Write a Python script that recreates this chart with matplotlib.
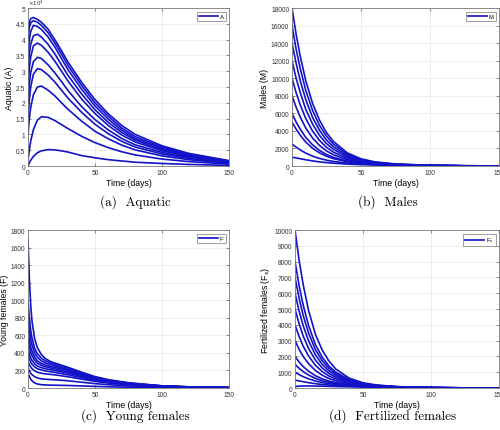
import matplotlib
matplotlib.use("Agg")
import matplotlib.pyplot as plt

# ---- (a) Aquatic, values in units of 10^4 ----
t_aq = [0, 1, 2, 4, 7, 10, 15, 20, 25, 30, 40, 50, 60, 70, 80, 100, 120, 150]
aquatic = [
    [4.2, 4.55, 4.66, 4.7, 4.64, 4.55, 4.33, 4.0, 3.65, 3.28, 2.65, 2.1, 1.65, 1.28, 1.0, 0.64, 0.4, 0.17],
    [4.0, 4.38, 4.53, 4.6, 4.55, 4.45, 4.22, 3.9, 3.54, 3.17, 2.55, 2.0, 1.57, 1.2, 0.93, 0.6, 0.37, 0.16],
    [3.5, 4.0, 4.25, 4.45, 4.42, 4.32, 4.08, 3.77, 3.4, 3.04, 2.43, 1.9, 1.48, 1.13, 0.87, 0.56, 0.35, 0.15],
    [3.0, 3.55, 3.85, 4.12, 4.17, 4.08, 3.85, 3.55, 3.2, 2.86, 2.28, 1.78, 1.38, 1.06, 0.82, 0.52, 0.32, 0.14],
    [2.5, 3.1, 3.45, 3.8, 3.89, 3.82, 3.6, 3.32, 3.0, 2.68, 2.12, 1.66, 1.28, 0.98, 0.76, 0.48, 0.3, 0.13],
    [2.0, 2.6, 2.95, 3.3, 3.44, 3.4, 3.2, 2.95, 2.67, 2.38, 1.88, 1.47, 1.14, 0.87, 0.67, 0.43, 0.27, 0.12],
    [1.5, 2.1, 2.5, 2.9, 3.08, 3.05, 2.88, 2.66, 2.4, 2.14, 1.7, 1.32, 1.02, 0.78, 0.6, 0.38, 0.24, 0.1],
    [1.0, 1.5, 1.85, 2.25, 2.5, 2.53, 2.4, 2.22, 2.0, 1.79, 1.42, 1.1, 0.86, 0.66, 0.51, 0.32, 0.2, 0.09],
    [0.2, 0.5, 0.78, 1.15, 1.45, 1.56, 1.54, 1.44, 1.31, 1.18, 0.94, 0.74, 0.58, 0.45, 0.35, 0.22, 0.14, 0.06],
    [0.0, 0.1, 0.18, 0.3, 0.42, 0.48, 0.52, 0.51, 0.48, 0.44, 0.33, 0.26, 0.2, 0.16, 0.12, 0.08, 0.05, 0.02],
]

# ---- (b) Males ----
t_m = [0, 3, 6, 10, 15, 20, 25, 30, 40, 50, 60, 75, 100, 125, 150]
males = [
    [18000, 15000, 12500, 9700, 7100, 5200, 3800, 2800, 1500, 820, 470, 230, 80, 30, 12],
    [16000, 13300, 11100, 8600, 6300, 4600, 3400, 2500, 1350, 740, 430, 210, 75, 28, 11],
    [14000, 11700, 9700, 7550, 5500, 4050, 2950, 2200, 1190, 660, 390, 195, 70, 26, 10],
    [12000, 10000, 8350, 6450, 4750, 3480, 2550, 1900, 1030, 580, 350, 180, 65, 24, 10],
    [10000, 8350, 6950, 5400, 3950, 2900, 2130, 1580, 870, 500, 300, 160, 60, 22, 9],
    [8000, 6700, 5570, 4320, 3170, 2330, 1720, 1280, 710, 420, 260, 140, 55, 20, 8],
    [6000, 5000, 4200, 3250, 2400, 1770, 1310, 980, 560, 340, 220, 120, 50, 19, 8],
    [5000, 4200, 3500, 2720, 2010, 1490, 1110, 840, 490, 300, 200, 110, 45, 18, 7],
    [2500, 2150, 1830, 1470, 1120, 860, 670, 520, 330, 220, 150, 90, 40, 16, 7],
    [1000, 920, 830, 710, 580, 470, 390, 320, 220, 160, 115, 70, 32, 14, 6],
]

# ---- (c) Young females ----
t_f = [0, 1, 2, 3, 5, 7, 10, 13, 17, 20, 30, 40, 50, 60, 75, 100, 125, 150]
young = [
    [1700, 1250, 950, 760, 560, 460, 380, 335, 300, 285, 235, 180, 130, 95, 60, 25, 11, 5],
    [1000, 800, 660, 570, 450, 390, 340, 310, 285, 270, 225, 172, 125, 90, 57, 24, 10, 5],
    [800, 660, 560, 490, 400, 350, 310, 285, 265, 252, 210, 162, 118, 86, 54, 23, 10, 5],
    [650, 550, 470, 420, 350, 310, 280, 262, 245, 235, 196, 152, 111, 81, 51, 22, 9, 4],
    [550, 470, 410, 370, 315, 282, 258, 242, 228, 218, 183, 142, 104, 76, 48, 21, 9, 4],
    [450, 390, 345, 315, 275, 250, 232, 220, 208, 200, 168, 131, 96, 71, 45, 19, 8, 4],
    [380, 330, 295, 270, 240, 220, 205, 195, 185, 178, 150, 118, 87, 64, 41, 18, 8, 4],
    [300, 265, 240, 220, 195, 180, 168, 162, 155, 150, 128, 101, 76, 56, 36, 16, 7, 3],
    [230, 195, 170, 152, 128, 115, 104, 100, 96, 94, 82, 66, 50, 38, 25, 11, 5, 2],
    [170, 130, 102, 82, 58, 46, 38, 35, 33, 32, 29, 24, 19, 14, 9, 4, 2, 1],
]

# ---- (d) Fertilized females ----
t_s = [0, 3, 6, 10, 15, 20, 25, 30, 40, 50, 60, 75, 100, 125, 150]
fertilized = [
    [10000, 8100, 6550, 4900, 3400, 2400, 1700, 1200, 620, 330, 190, 90, 30, 11, 4],
    [8000, 6500, 5250, 3950, 2750, 1950, 1390, 1000, 530, 290, 170, 82, 28, 10, 4],
    [7000, 5700, 4600, 3470, 2430, 1730, 1240, 900, 480, 270, 160, 78, 27, 10, 4],
    [6000, 4880, 3950, 2980, 2100, 1500, 1080, 790, 430, 245, 148, 73, 26, 10, 4],
    [5000, 4070, 3300, 2500, 1770, 1270, 920, 680, 380, 220, 135, 68, 25, 9, 3],
    [4000, 3260, 2650, 2020, 1440, 1040, 760, 570, 330, 195, 122, 63, 23, 9, 3],
    [3000, 2450, 2000, 1540, 1110, 810, 600, 460, 275, 170, 108, 57, 22, 8, 3],
    [2000, 1650, 1360, 1060, 780, 580, 440, 345, 218, 142, 94, 51, 20, 8, 3],
    [1500, 1250, 1040, 820, 610, 460, 360, 285, 188, 126, 85, 47, 19, 7, 3],
    [1000, 850, 720, 580, 445, 345, 275, 225, 155, 108, 75, 43, 18, 7, 3],
    [500, 450, 400, 340, 275, 225, 188, 160, 118, 87, 63, 38, 16, 6, 2],
    [100, 120, 130, 132, 125, 115, 104, 94, 76, 60, 46, 30, 14, 6, 2],
]

LINE = "#1212c8"
SANS = ["Liberation Sans", "DejaVu Sans"]
SERIF = ["cmr10", "DejaVu Serif"]

panels = [
    # t, curves, ylabel, legend, yticks, rect, caption, caption pos
    (t_aq, aquatic, "Aquatic (A)", "A", [i * 0.5 for i in range(11)],
     [0.056, 0.6125, 0.402, 0.3666], "(a)  Aquatic", (0.27, 0.531)),
    (t_m, males, "Males (M)", "M", list(range(0, 18001, 2000)),
     [0.584, 0.6125, 0.414, 0.3666], "(b)  Males", (0.775, 0.531)),
    (t_f, young, "Young females (F)", "F", list(range(0, 1801, 200)),
     [0.056, 0.0974, 0.402, 0.3666], "(c)  Young females", (0.27, 0.034)),
    (t_s, fertilized, "Fertilized females (F$_s$)", "F$_s$", list(range(0, 10001, 1000)),
     [0.59, 0.0974, 0.408, 0.3666], "(d)  Fertilized females", (0.786, 0.034)),
]

fig = plt.figure(figsize=(5, 4.31), dpi=100)

for t, curves, ylab, leg, yticks, rect, cap, cpos in panels:
    ax = fig.add_axes(rect)
    for i, y in enumerate(curves):
        ax.plot(t, y, color=LINE, lw=1.2, label=leg if i == 0 else None)
    ax.set_xlim(0, 150)
    ax.set_ylim(yticks[0], yticks[-1])
    ax.set_xticks([0, 50, 100, 150])
    ax.set_yticks(yticks)
    if curves is aquatic:
        ax.set_yticklabels(["0" if v == 0 else f"{v:g}" for v in yticks])
        ax.text(0.0, 1.005, r"$\times10^4$", transform=ax.transAxes,
                fontsize=4, color="#333333", va="bottom", ha="left")
    ax.grid(True, color="#e6e6e6", lw=0.5)
    ax.set_axisbelow(True)
    ax.tick_params(direction="in", length=2, width=0.4, labelsize=4.8,
                   colors="#333333", top=True, right=True, pad=2)
    for s in ax.spines.values():
        s.set_color("#7a7a7a")
        s.set_linewidth(0.6)
    for lbl in ax.get_xticklabels() + ax.get_yticklabels():
        lbl.set_family(SANS)
    ax.set_xlabel("Time (days)", fontsize=6.3, family=SANS, labelpad=1.5)
    ax.set_ylabel(ylab, fontsize=6.3, family=SANS, labelpad=1.5)
    lg = ax.legend(loc="upper right", fontsize=4.2, handlelength=3.2,
                   fancybox=False, edgecolor="#555555", borderpad=0.35,
                   handletextpad=0.3, borderaxespad=0.6)
    lg.get_frame().set_linewidth(0.5)
    for txt in lg.get_texts():
        txt.set_family(SANS)
    fig.text(cpos[0], cpos[1], cap, fontsize=9.5, family=SERIF,
             ha="center", va="center")

fig.savefig("out.png", dpi=100)
